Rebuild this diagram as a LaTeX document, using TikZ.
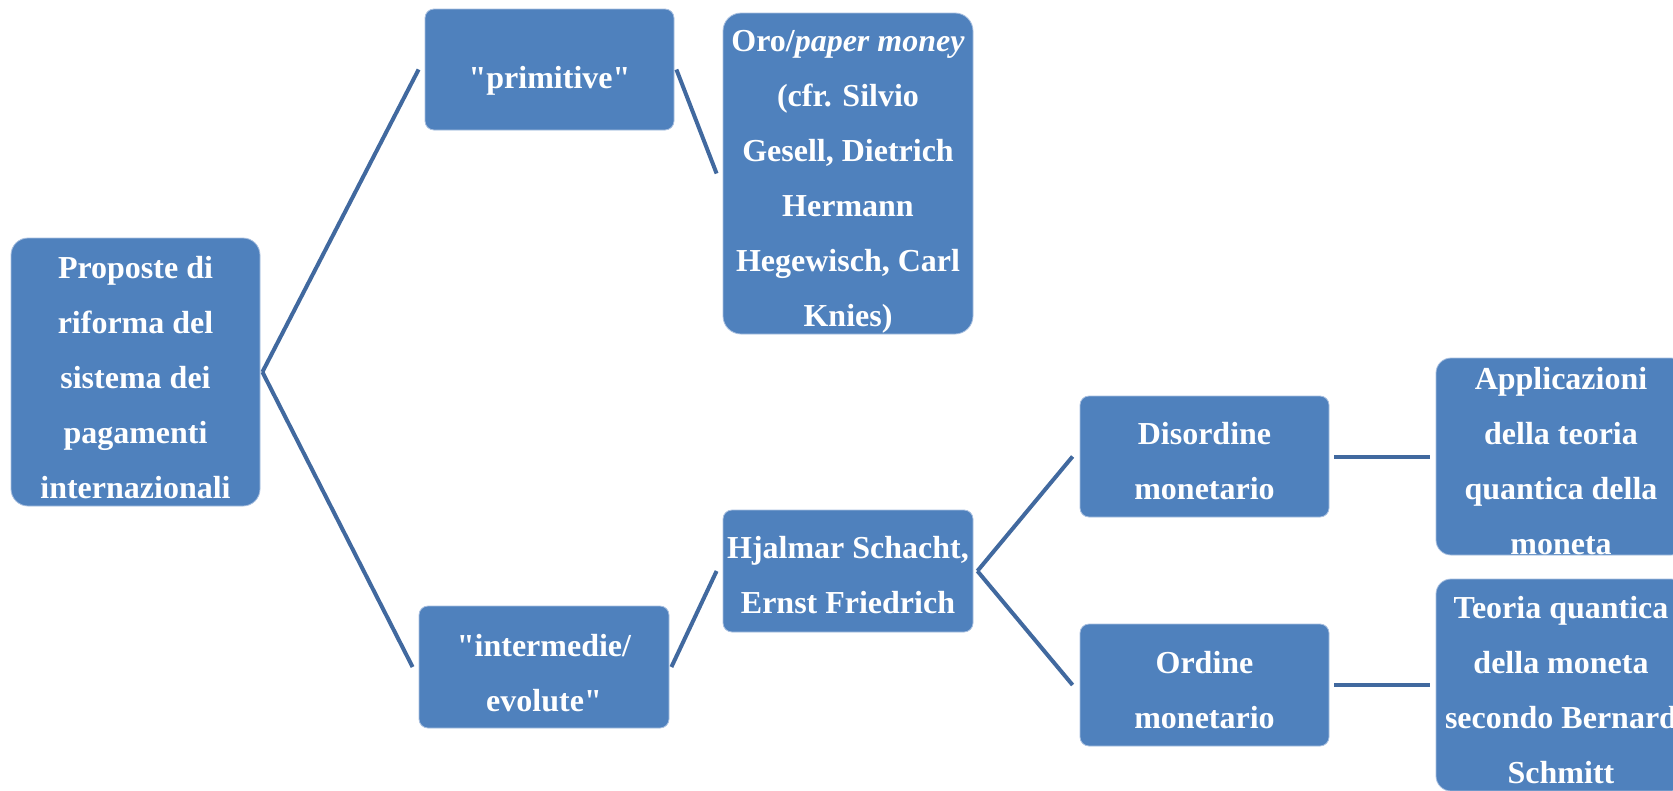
\documentclass[tikz,border=0pt]{standalone}
\usepackage{fontspec}
\setmainfont{Liberation Serif}
% plain family without TeX ligature mapping, for straight double quotes
\newfontfamily\plainserif{Liberation Serif}
\definecolor{boxblue}{HTML}{4F81BD}
\definecolor{linkblue}{HTML}{41699F}
\definecolor{edgeblue}{HTML}{A9C0E0}
\newcommand{\qt}{{\plainserif\bfseries"}}
% invisible strut that lowers the text block inside its box
\newcommand{\lead}[1][33pt]{\rule{0pt}{#1}}
\begin{document}
\begin{tikzpicture}[x=1pt,y=-1pt,
  box/.style={rectangle, fill=boxblue, draw=edgeblue, line width=0.8pt,
    text=white, align=center, inner sep=0pt,
    font=\fontsize{32}{55}\selectfont\bfseries},
  link/.style={draw=linkblue, line width=4pt}]
\clip (0,0) rectangle (1673,790);
\fill[white] (0,0) rectangle (1673,790);

% boxes
\node[box, minimum width=249, minimum height=268, rounded corners=17] (root) at (135.5,372)
  {\lead Proposte di\\riforma del\\sistema dei\\pagamenti\\internazionali};
\node[box, minimum width=249, minimum height=121, rounded corners=9] (prim) at (549.5,69.5)
  {\lead[44pt]\qt primitive\qt};
\node[box, minimum width=250, minimum height=321, rounded corners=18] (oro) at (848,173.5)
  {\lead[37pt]Oro/\textit{paper money}\\(cfr. Silvio\\Gesell, Dietrich\\Hermann\\Hegewisch, Carl\\Knies)};
\node[box, minimum width=250, minimum height=122, rounded corners=9] (inter) at (544,667)
  {\lead[35pt]\qt intermedie/\\evolute\qt};
\node[box, minimum width=250, minimum height=122, rounded corners=9] (hjal) at (848,571)
  {\lead[29.5pt]Hjalmar Schacht,\\Ernst Friedrich};
\node[box, minimum width=249, minimum height=121, rounded corners=9] (dis) at (1204.5,456.5)
  {\lead[30.5pt]Disordine\\monetario};
\node[box, minimum width=249, minimum height=122, rounded corners=9] (ord) at (1204.5,685)
  {\lead[32.5pt]Ordine\\monetario};
\node[box, minimum width=250, minimum height=197, rounded corners=15] (app) at (1561,456.5)
  {\lead[30.5pt]Applicazioni\\della teoria\\quantica della\\moneta};
\node[box, minimum width=250, minimum height=212, rounded corners=15] (teo) at (1561,685)
  {\lead[32.5pt]Teoria quantica\\della moneta\\secondo Bernard\\Schmitt};

% connectors
\draw[link] ([xshift=2pt]root.east) -- ([xshift=-6pt]prim.west);
\draw[link] ([xshift=2pt]root.east) -- ([xshift=-6pt]inter.west);
\draw[link] ([xshift=2pt]prim.east) -- ([xshift=-6pt]oro.west);
\draw[link] ([xshift=2pt]inter.east) -- ([xshift=-6pt]hjal.west);
\draw[link] ([xshift=4pt]hjal.east) -- ([xshift=-7pt]dis.west);
\draw[link] ([xshift=4pt]hjal.east) -- ([xshift=-7pt]ord.west);
\draw[link] ([xshift=5pt]dis.east) -- ([xshift=-6pt]app.west);
\draw[link] ([xshift=5pt]ord.east) -- ([xshift=-6pt]teo.west);
\end{tikzpicture}
\end{document}
